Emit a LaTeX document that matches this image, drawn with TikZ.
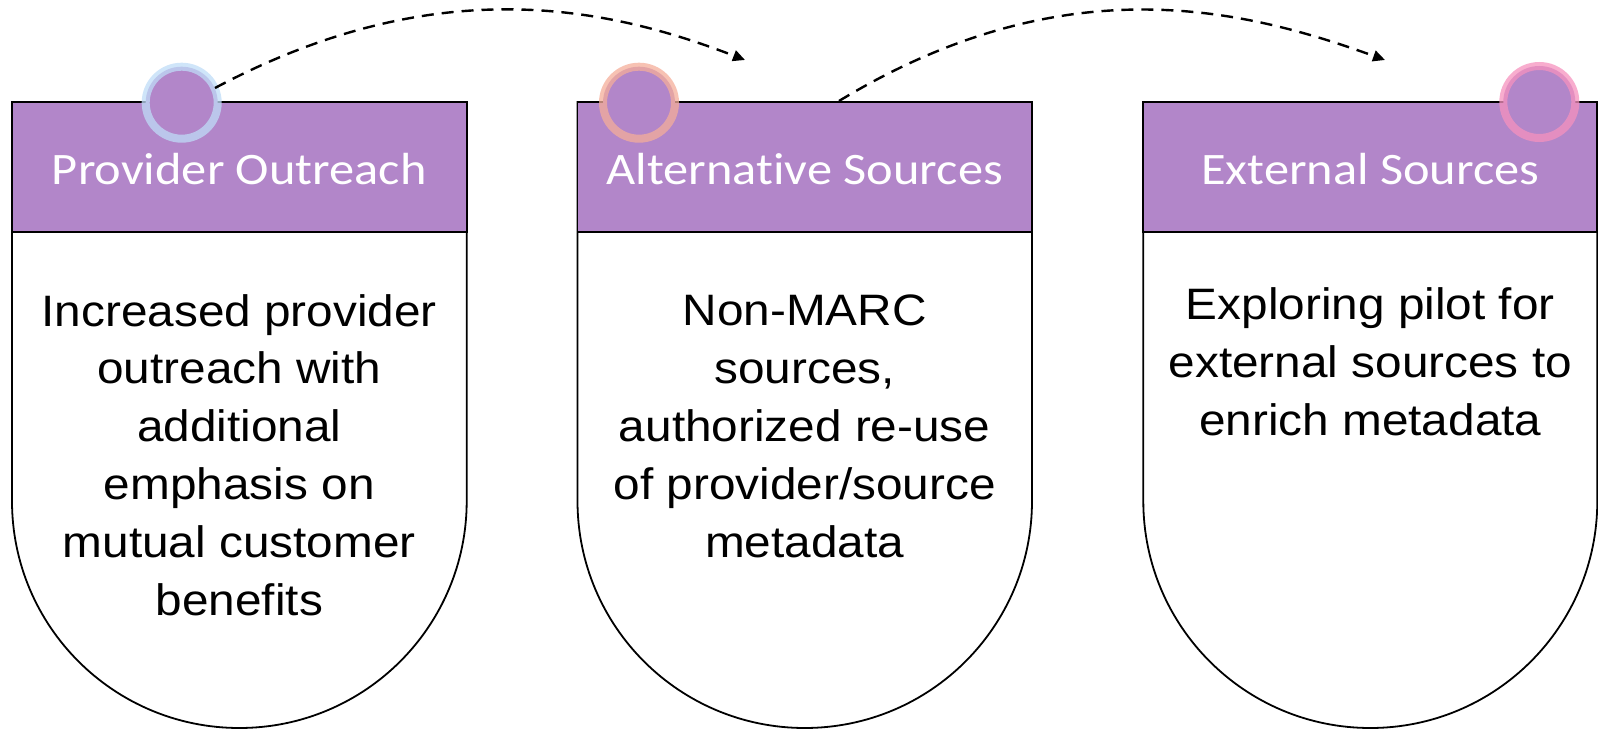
\documentclass[tikz,border=0pt]{standalone}
\usepackage{fontspec}
\usetikzlibrary{arrows.meta}
\newfontfamily\bodyfont[FakeStretch=1.085]{Liberation Sans}
\newfontfamily\headfont[FakeStretch=1.12,Ligatures=NoCommon]{Carlito}
\definecolor{hdrpurple}{HTML}{B286C9}
\definecolor{ringblue}{HTML}{BFDCF7}
\definecolor{ringsalmon}{HTML}{F4AE9A}
\definecolor{ringpink}{HTML}{F592BE}
\tikzset{
  panel/.style={draw=black, line width=1.8pt, fill=white},
  header/.style={draw=black, line width=1.8pt, fill=hdrpurple},
  htext/.style={text=white, font=\headfont\fontsize{45}{50}\selectfont, inner sep=0pt, anchor=base},
  btext/.style={text=black, font=\bodyfont\fontsize{44}{57.8}\selectfont, align=center, inner sep=0pt, anchor=base},
  dot/.style={circle, fill=hdrpurple, minimum size=72pt, inner sep=0pt},
  ring/.style={line width=8pt, draw opacity=0.75},
  flow/.style={black, line width=2.4pt, dash pattern=on 12pt off 8pt, -{Triangle[length=12pt,width=11pt]}}
}
\begin{document}
\begin{tikzpicture}[x=1pt,y=-1pt]
\useasboundingbox (0,0) rectangle (1598,730);
% panels
\foreach \xa/\xb in {12/466.7, 577.5/1032, 1143.3/1597.3}{
  \pgfmathsetmacro{\r}{(\xb-\xa)/2}
  \draw[panel] (\xa,102) -- (\xb,102) -- (\xb,501) arc[start angle=0, end angle=180, x radius=\r, y radius=227] -- cycle;
  \draw[header] (\xa,102) rectangle (\xb,232);
}
% header texts
\node[htext] (h1) at (239.3,185) {Provider Outreach};
\node[htext] (h2) at (804.7,185) {Alternative Sources};
\node[htext] (h3) at (1370.3,185) {External Sources};
% body texts (anchor = baseline of last line)
\node[btext] (b1) at (239.3,615) {Increased provider\\outreach with\\additional\\emphasis on\\mutual customer\\benefits};
\node[btext] (b2) at (804.7,557) {Non-MARC\\sources,\\authorized re-use\\of provider/source\\metadata};
\node[btext] (b3) at (1370.3,435) {Exploring pilot for\\external sources to\\enrich metadata};
% circles
\node[dot] (c1) at (181.7,102.7) {};
\node[dot] (c2) at (639,102.7) {};
\node[dot] (c3) at (1539.3,102) {};
\draw[ring, draw=ringblue] (c1.center) circle[radius=36pt];
\draw[ring, draw=ringsalmon] (c2.center) circle[radius=36pt];
\draw[ring, draw=ringpink] (c3.center) circle[radius=36pt];
% connectors
\coordinate (s1) at (215,88);
\coordinate (e1) at (745,60);
\coordinate (s2) at (839,101);
\coordinate (e2) at (1385,60);
\draw[flow] (s1) .. controls (435,-29) and (605,6) .. (e1);
\draw[flow] (s2) .. controls (1065,-36) and (1244,9) .. (e2);
\end{tikzpicture}
\end{document}
